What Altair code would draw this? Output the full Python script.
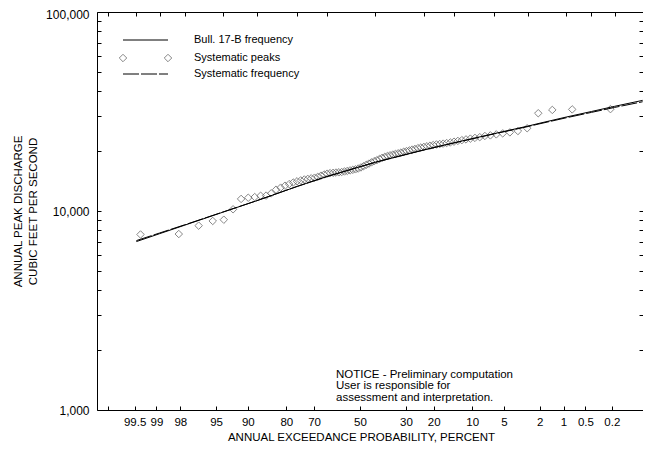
import altair as alt
import pandas as pd
from statistics import NormalDist

# ---------------- data ----------------
# annual peak discharges, cfs (systematic record)
peaks = [32500, 32400, 32200, 31000, 26050, 25230, 24840, 24550, 24270, 23990, 23820,
         23500, 23300, 23100, 22900, 22700, 22500, 22300, 22100, 21950, 21800,
         21700, 21600, 21450, 21300, 21150, 21000, 20850, 20700, 20500, 20350,
         20150, 20000, 19850, 19650, 19500, 19350, 19200, 19050, 18900, 18700,
         18500, 18250, 18000, 17800, 17550, 17300, 17050, 16800, 16550, 16350,
         16200, 16100, 16000, 15900, 15800, 15700, 15650, 15600, 15550, 15500,
         15400, 15250, 15050, 14850, 14700, 14600, 14500, 14400, 14250, 14100,
         13900, 13650, 13400, 13100, 12800,
         12270, 11950, 11930, 11750, 11660, 11500, 10200, 9040, 8910, 8440, 7660, 7620]

# frequency curves: annual exceedance probability (percent) -> discharge
curve_probs = [99.5, 99, 98, 95, 90, 80, 70, 50, 30, 20, 10, 5, 4, 2, 1, 0.5, 0.2]
bull17b = [7020, 7690, 8490, 9860, 11250, 13300, 14900, 17600, 20300, 22000,
           24500, 26730, 27480, 29650, 31620, 33570, 35970]
systematic = [7100, 7750, 8530, 9880, 11260, 13300, 14890, 17580, 20270, 21950,
              24420, 26580, 27310, 29400, 31300, 33150, 35400]

tick_probs = [99.8, 99.5, 99, 98, 95, 90, 80, 70, 50, 30, 20, 10, 5, 2, 1, 0.5, 0.2]
label_probs = [99.5, 99, 98, 95, 90, 80, 70, 50, 30, 20, 10, 5, 2, 1, 0.5, 0.2]
y_ticks = [1000, 2000, 3000, 4000, 5000, 6000, 7000, 8000, 9000,
           10000, 20000, 30000, 40000, 50000, 60000, 70000, 80000, 90000, 100000]
y_labels = [1000, 10000, 100000]

legend_labels = ["Bull. 17-B frequency", "Systematic peaks", "Systematic frequency"]
notice_lines = ["NOTICE - Preliminary computation",
                "User is responsible for",
                "assessment and interpretation."]
x_title = "ANNUAL EXCEEDANCE PROBABILITY, PERCENT"
y_title = ["ANNUAL PEAK DISCHARGE", "CUBIC FEET PER SECOND"]

# ---------------- layout / style ----------------
FONT = "Liberation Sans"
W, H = 546, 398
PXZ = 92.83
ZMIN = -3.0
ZMAX = ZMIN + W / PXZ
nd = NormalDist()


def zq(p):
    return nd.inv_cdf(1 - p / 100.0)


# the bottom axis of the reference is drawn on a slightly compressed scale
BOT_C, BOT_S = 263.0, 87.5


def zb(p):
    return (BOT_C + BOT_S * zq(p)) / PXZ + ZMIN


bottom_label_expr = (
    f"format(100*(1-cumulativeNormal(((datum.value-({ZMIN}))*{PXZ}-{BOT_C})/{BOT_S})), '.1~f')"
)

xscale = alt.Scale(domain=[ZMIN, ZMAX], nice=False, zero=False)
yscale = alt.Scale(type="log", domain=[1000, 100000], nice=False)

peaks_df = pd.DataFrame({"Q": peaks})
curve_df = pd.DataFrame({"p": curve_probs, "bull": bull17b, "sys": systematic})

axis_x1 = alt.Axis(orient="bottom", values=[zb(p) for p in label_probs],
                   labelExpr=bottom_label_expr, ticks=False, tickSize=0, domain=True,
                   grid=False, title=x_title, labelPadding=6, titlePadding=4,
                   titleX=264, labelOverlap=False, labelFlush=False)
axis_x2 = alt.Axis(orient="top", offset=-H, values=[zb(p) for p in tick_probs],
                   labels=False, tickSize=4, domain=False, grid=False, title="")
axis_x3 = alt.Axis(orient="bottom", offset=-H, values=[zq(p) for p in tick_probs],
                   labels=False, tickSize=4, domain=True, grid=False, title="")

axis_y1 = alt.Axis(orient="left", values=y_labels, format=",", ticks=False, tickSize=0,
                   domain=True, grid=False, title=y_title, labelPadding=8,
                   titlePadding=7, titleLineHeight=15, labelFontSize=12,
                   labelFlush=False, labelOverlap=False,
                   labelOffset={"condition": {"test": "datum.value >= 100000", "value": 2},
                                "value": 0})
axis_y2 = alt.Axis(orient="right", offset=-W, values=y_ticks, labels=False,
                   tickSize=4, domain=False, grid=False, title="")
axis_y3 = alt.Axis(orient="left", offset=-W, values=y_ticks, labels=False,
                   tickSize=4, domain=False, grid=False, title="")

points = alt.Chart(peaks_df).transform_window(
    rank="row_number()", sort=[alt.SortField("Q", order="descending")]
).transform_joinaggregate(n="count()").transform_calculate(
    z="quantileNormal(1 - (datum.rank - 0.5) / datum.n)"
).mark_point(shape="diamond", filled=False, size=56, color="#555555", strokeWidth=1).encode(
    x=alt.X("z:Q", scale=xscale, axis=axis_x1),
    y=alt.Y("Q:Q", scale=yscale, axis=axis_y1),
)

bull_line = alt.Chart(curve_df).transform_calculate(
    z="quantileNormal(1 - datum.p / 100)"
).mark_line(color="black", strokeWidth=1).encode(
    x=alt.X("z:Q", scale=xscale, axis=axis_x2),
    y=alt.Y("bull:Q", scale=yscale, axis=axis_y2),
)

sys_line = alt.Chart(curve_df).transform_calculate(
    z="quantileNormal(1 - datum.p / 100)"
).mark_line(color="black", strokeWidth=1, strokeDash=[16, 2]).encode(
    x=alt.X("z:Q", scale=xscale, axis=axis_x3),
    y=alt.Y("sys:Q", scale=yscale, axis=axis_y3),
)

one = pd.DataFrame({"k": [0]})
leg_rule1 = alt.Chart(one).mark_rule(color="black", strokeWidth=1).encode(
    x=alt.value(26), x2=alt.value(71), y=alt.value(28))
leg_pt1 = alt.Chart(one).mark_point(shape="diamond", filled=False, size=56,
                                    color="#555555", strokeWidth=1).encode(
    x=alt.value(26), y=alt.value(46))
leg_pt2 = alt.Chart(one).mark_point(shape="diamond", filled=False, size=56,
                                    color="#555555", strokeWidth=1).encode(
    x=alt.value(71), y=alt.value(46))
leg_rule2 = alt.Chart(one).mark_rule(color="black", strokeWidth=1, strokeDash=[16, 2]).encode(
    x=alt.value(26), x2=alt.value(71), y=alt.value(62))
leg_texts = [
    alt.Chart(one).mark_text(align="left", baseline="middle", font=FONT, fontSize=11,
                             color="black").encode(
        x=alt.value(97), y=alt.value(yy), text=alt.value(lab))
    for lab, yy in zip(legend_labels, [28, 46, 62])
]
notice = alt.Chart(one).mark_text(align="left", baseline="middle", font=FONT,
                                  fontSize=11.5, lineHeight=11.5, color="black",
                                  text=notice_lines).encode(
    x=alt.value(239), y=alt.value(362.5))

chart = alt.layer(
    points, bull_line, sys_line, leg_rule1, leg_pt1, leg_pt2, leg_rule2, *leg_texts, notice
).resolve_scale(x="shared", y="shared").resolve_axis(
    x="independent", y="independent"
).properties(
    width=W, height=H,
    autosize=alt.AutoSizeParams(type="none"),
    padding={"left": 89, "top": 4, "right": 0, "bottom": 33},
    background="white",
).configure_view(stroke="transparent").configure_axis(
    domainColor="black", tickColor="black", labelColor="black", titleColor="black",
    labelFont=FONT, titleFont=FONT, labelFontSize=11.5, titleFontSize=11.5,
    titleFontWeight="normal", domainWidth=1, tickWidth=1,
)

chart.save("out.html", embed_options={"renderer": "svg", "actions": False})
